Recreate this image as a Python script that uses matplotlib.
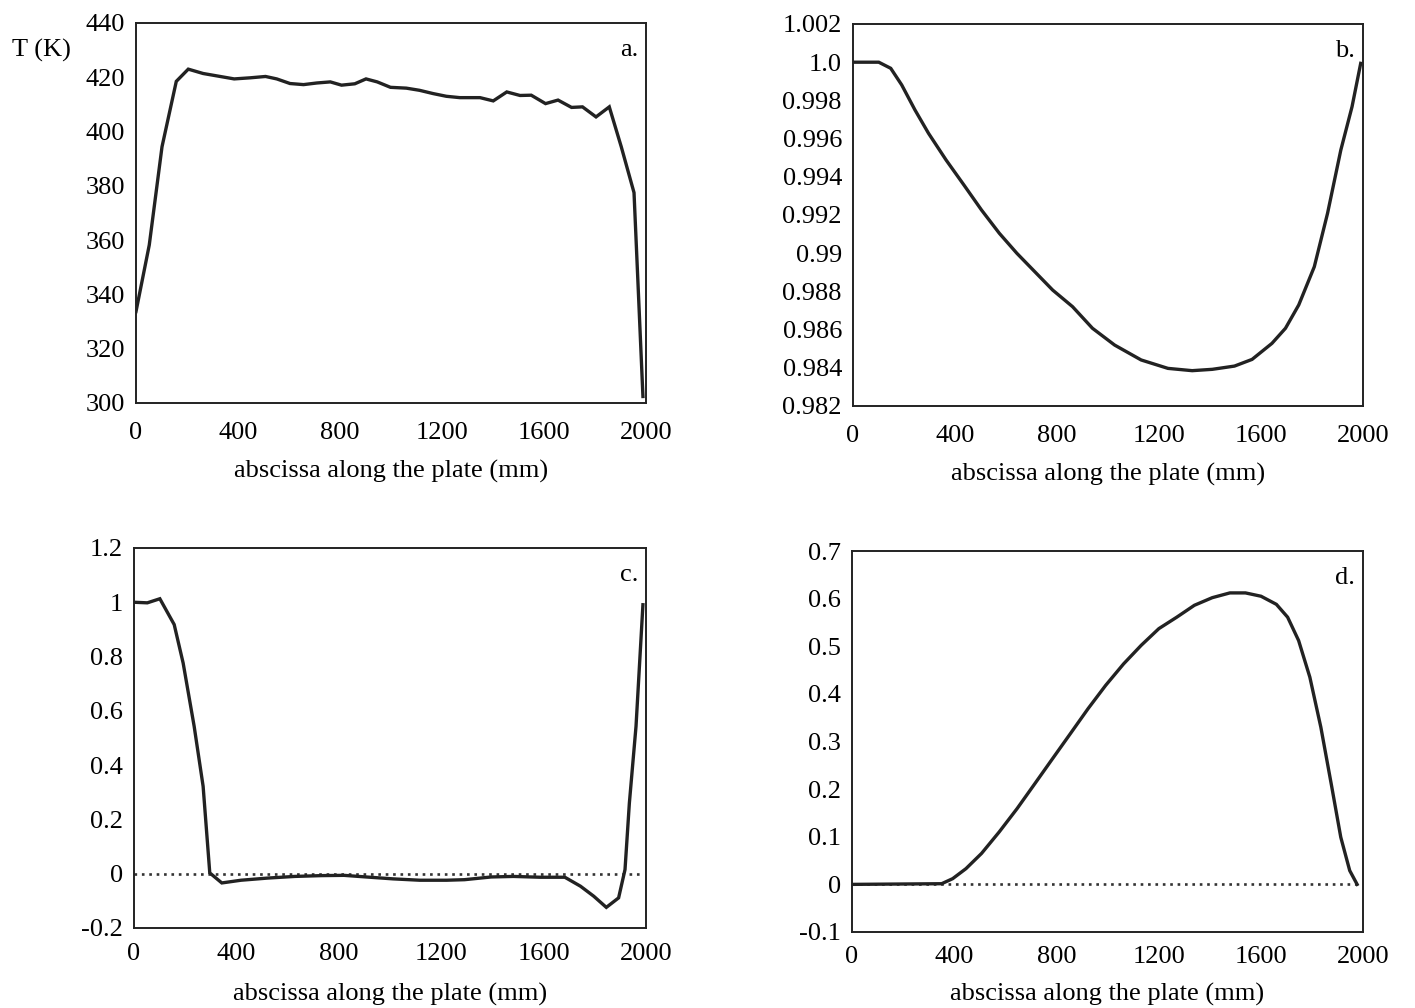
import numpy as np
import matplotlib
matplotlib.use("Agg")
import matplotlib.pyplot as plt

# panel a: temperature along the plate
xa = [0, 52, 102, 158, 205, 263, 324, 385, 447, 508, 552, 604, 657, 709, 762, 806,
      858, 902, 946, 998, 1060, 1112, 1165, 1217, 1270, 1349, 1401, 1454, 1506, 1550,
      1606, 1655, 1708, 1751, 1804, 1856, 1903, 1953, 1988]
ta = [333.7, 358.2, 394.4, 418.5, 423.0, 421.4, 420.4, 419.4, 419.8, 420.3, 419.4,
      417.7, 417.3, 417.9, 418.3, 417.1, 417.6, 419.4, 418.3, 416.3, 416.0, 415.2,
      414.0, 413.0, 412.5, 412.5, 411.3, 414.6, 413.3, 413.4, 410.3, 411.6, 408.9,
      409.1, 405.4, 409.1, 394.4, 377.5, 302.4]

# panel b
xb = [0, 101, 148, 191, 243, 296, 365, 435, 504, 574, 643, 713, 783, 861, 939, 1026,
      1130, 1235, 1330, 1409, 1496, 1565, 1643, 1696, 1748, 1809, 1861, 1913, 1957, 1991]
yb = [1.0, 1.0, 0.99968, 0.99881, 0.99750, 0.99628, 0.99488, 0.99357, 0.99226,
      0.99104, 0.98999, 0.98903, 0.98807, 0.98720, 0.98607, 0.98519, 0.98441,
      0.98397, 0.98385, 0.98392, 0.98409, 0.98444, 0.98528, 0.98607, 0.98729,
      0.98929, 0.99209, 0.99540, 0.99767, 0.99994]

# panel c
xc = [3, 52, 101, 157, 192, 235, 270, 296, 343, 418, 523, 628, 732, 820, 907, 1012,
      1116, 1221, 1291, 1395, 1482, 1587, 1683, 1744, 1796, 1845, 1893, 1918, 1935,
      1961, 1988]
yc = [1.0, 0.998, 1.013, 0.918, 0.776, 0.543, 0.322, 0.003, -0.034, -0.024, -0.016,
      -0.010, -0.007, -0.006, -0.012, -0.019, -0.024, -0.024, -0.022, -0.012, -0.010,
      -0.013, -0.013, -0.046, -0.083, -0.124, -0.089, 0.015, 0.26, 0.543, 0.991]

# panel d
xd = [3, 351, 394, 446, 507, 576, 646, 715, 785, 854, 924, 993, 1063, 1132, 1201,
      1271, 1340, 1410, 1479, 1540, 1601, 1661, 1705, 1748, 1792, 1835, 1878, 1913,
      1948, 1977]
yd = [0.0, 0.0014, 0.012, 0.033, 0.065, 0.110, 0.159, 0.211, 0.264, 0.316, 0.369,
      0.418, 0.463, 0.502, 0.537, 0.561, 0.586, 0.602, 0.612, 0.612, 0.605, 0.588,
      0.561, 0.512, 0.435, 0.330, 0.204, 0.099, 0.029, 0.0]

xticks = [0, 400, 800, 1200, 1600, 2000]
ticks_a = [300, 320, 340, 360, 380, 400, 420, 440]
ticks_b = [0.982, 0.984, 0.986, 0.988, 0.99, 0.992, 0.994, 0.996, 0.998, 1.0, 1.002]
labels_b = ['0.982', '0.984', '0.986', '0.988', '0.99', '0.992', '0.994', '0.996',
            '0.998', '1.0', '1.002']
ticks_c = [-0.2, 0, 0.2, 0.4, 0.6, 0.8, 1, 1.2]
labels_c = ['-0.2', '0', '0.2', '0.4', '0.6', '0.8', '1', '1.2']
ticks_d = [-0.1, 0, 0.1, 0.2, 0.3, 0.4, 0.5, 0.6, 0.7]
labels_d = ['-0.1', '0', '0.1', '0.2', '0.3', '0.4', '0.5', '0.6', '0.7']

plt.rcParams['font.family'] = ['Liberation Serif', 'DejaVu Serif']
FS = 19

W, H = 1415, 1008
fig = plt.figure(figsize=(W / 100, H / 100), dpi=100)
fig.patch.set_facecolor('white')


def make_axes(left, right, top, bottom):
    return fig.add_axes([left / W, 1 - bottom / H, (right - left) / W, (bottom - top) / H])


axa = make_axes(136, 646, 23, 403)
axb = make_axes(853, 1363, 24, 406)
axc = make_axes(134, 646, 548, 928)
axd = make_axes(852, 1363, 551, 932)

line_kw = dict(color='#222222', lw=2.4, solid_joinstyle='miter')
dot_kw = dict(color='#333333', lw=1.9, linestyle=(0, (1, 1.8)))

axa.plot(xa, ta, **line_kw)
axa.set_ylim(300, 440)
axa.set_yticks(ticks_a)

axb.plot(xb, yb, **line_kw)
axb.set_ylim(0.982, 1.002)
axb.set_yticks(ticks_b)
axb.set_yticklabels(labels_b)

axc.plot([0, 1975], [0, 0], **dot_kw)
axc.plot(xc, yc, **line_kw)
axc.set_ylim(-0.2, 1.2)
axc.set_yticks(ticks_c)
axc.set_yticklabels(labels_c)

axd.plot([0, 1980], [0, 0], **dot_kw)
axd.plot(xd, yd, **line_kw)
axd.set_ylim(-0.1, 0.7)
axd.set_yticks(ticks_d)
axd.set_yticklabels(labels_d)

# (tick pad, xlabel pad) per panel
pads = {'a.': (14, 11), 'b.': (14, 11), 'c.': (11, 13), 'd.': (10, 11)}
for ax, tag in zip([axa, axb, axc, axd], ['a.', 'b.', 'c.', 'd.']):
    xpad, lpad = pads[tag]
    ax.set_xlim(0, 2000)
    ax.set_xticks(xticks)
    ax.tick_params(length=0, pad=8, labelsize=FS)
    ax.tick_params(axis='x', pad=xpad)
    for s in ax.spines.values():
        s.set_linewidth(1.4)
        s.set_color('#222222')
    ax.set_xlabel('abscissa along the plate (mm)', fontsize=FS, labelpad=lpad)
    ax.text(0.985, 0.93, tag, transform=ax.transAxes, ha='right', va='center', fontsize=FS)

fig.text(41 / W, 1 - 50 / H, 'T (K)', ha='center', va='center', fontsize=FS)

fig.savefig('out.png', dpi=100)
